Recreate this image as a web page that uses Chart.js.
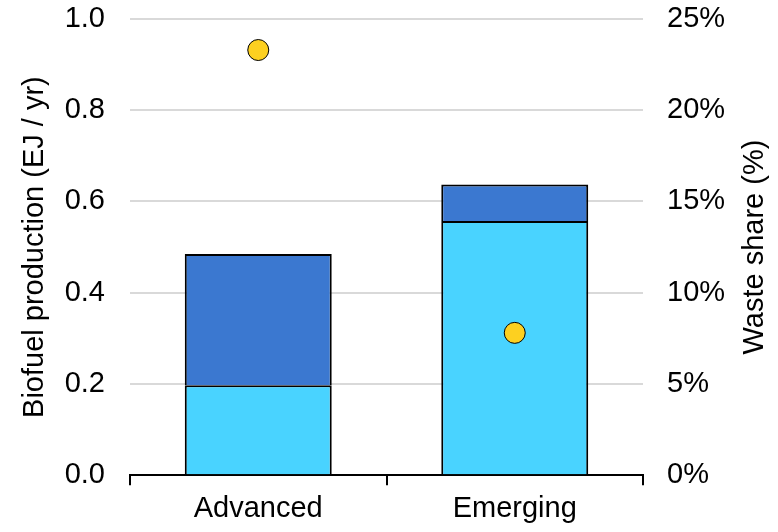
<!DOCTYPE html>
<html lang="en">
  <head>
    <meta charset="UTF-8" />
    <title>Biofuel production and waste share</title>
    <script src="https://cdn.jsdelivr.net/npm/chart.js"></script>
    <style>
      html, body { margin: 0; padding: 0; background: #ffffff; }
      #wrap { width: 778px; height: 532px; position: relative; }
    </style>
  </head>
  <body>
    <div id="wrap"><canvas id="chart"></canvas></div>
    <script>
      // Values
      const categories = ["Advanced", "Emerging"];
      const lowerSegment = [0.197, 0.557];   // light blue part (EJ / yr)
      const upperSegment = [0.288, 0.080];   // dark blue part stacked on top
      const wasteShare = [23.3, 7.8];        // points on right axis (%)
      const leftTicks = [0, 0.2, 0.4, 0.6, 0.8, 1.0];
      const rightTicks = [0, 5, 10, 15, 20, 25];

      const font = { family: "'Liberation Sans', Arial, sans-serif", size: 29 };
      Chart.defaults.font.family = font.family;
      Chart.defaults.color = "#000000";

      // Right axis title, drawn bottom-to-top like the left one
      const rightTitle = {
        id: "rightTitle",
        afterDraw(chart) {
          const ctx = chart.ctx;
          const area = chart.chartArea;
          ctx.save();
          ctx.translate(755, (area.top + area.bottom) / 2);
          ctx.rotate(-Math.PI / 2);
          ctx.font = font.size + "px " + font.family;
          ctx.fillStyle = "#000000";
          ctx.textAlign = "center";
          ctx.textBaseline = "middle";
          ctx.fillText("Waste share (%)", 0, 0);
          ctx.restore();
        },
      };

      // keep the plot area where the reference has it
      function fixSide(width) {
        return (axis) => {
          axis.width = width;
          axis.paddingTop = 19;
          axis.paddingBottom = 0;
        };
      }

      new Chart(document.getElementById("chart"), {
        type: "bar",
        data: {
          labels: categories,
          datasets: [
            {
              type: "line",
              data: wasteShare,
              yAxisID: "y2",
              showLine: false,
              pointRadius: 10.5,
              pointHoverRadius: 10.5,
              pointBackgroundColor: "#FDD020",
              pointBorderColor: "#000000",
              pointBorderWidth: 1,
              order: 0,
            },
            {
              data: lowerSegment,
              backgroundColor: "#49D3FF",
              borderColor: "#000000",
              borderWidth: 2,
              yAxisID: "y",
              stack: "fuel",
              order: 1,
            },
            {
              data: upperSegment,
              backgroundColor: "#3B78D0",
              borderColor: "#000000",
              borderWidth: 2,
              yAxisID: "y",
              stack: "fuel",
              order: 1,
            },
          ],
        },
        options: {
          responsive: true,
          maintainAspectRatio: false,
          animation: false,
          layout: { padding: { top: 0, bottom: 0, left: 0, right: 0 } },
          plugins: { legend: { display: false }, tooltip: { enabled: false } },
          datasets: { bar: { categoryPercentage: 1, barPercentage: 0.573 } },
          scales: {
            x: {
              stacked: true,
              grid: {
                offset: true,
                drawOnChartArea: false,
                tickLength: 10,
                color: "#000000",
                lineWidth: 2,
              },
              border: { color: "#000000", width: 2 },
              ticks: { font: font, padding: 6 },
            },
            y: {
              stacked: true,
              position: "left",
              min: 0,
              max: 1,
              afterBuildTicks: (axis) => { axis.ticks = leftTicks.map((v) => ({ value: v })); },
              afterFit: fixSide(130),
              grid: {
                color: (ctx) => (ctx.tick && ctx.tick.value === 0 ? "rgba(0,0,0,0)" : "#D9D9D9"),
                lineWidth: 2,
                drawTicks: false,
              },
              border: { display: false },
              ticks: { font: font, padding: 25, callback: (v) => Number(v).toFixed(1) },
              title: { display: true, text: "Biofuel production (EJ / yr)", font: font, padding: { top: 18, bottom: 0 } },
            },
            y2: {
              position: "right",
              min: 0,
              max: 25,
              afterBuildTicks: (axis) => { axis.ticks = rightTicks.map((v) => ({ value: v })); },
              afterFit: fixSide(135),
              grid: { drawOnChartArea: false, drawTicks: false },
              border: { display: false },
              ticks: { font: font, padding: 24, callback: (v) => v + "%" },
            },
          },
        },
        plugins: [rightTitle],
      });
    </script>
  </body>
</html>
